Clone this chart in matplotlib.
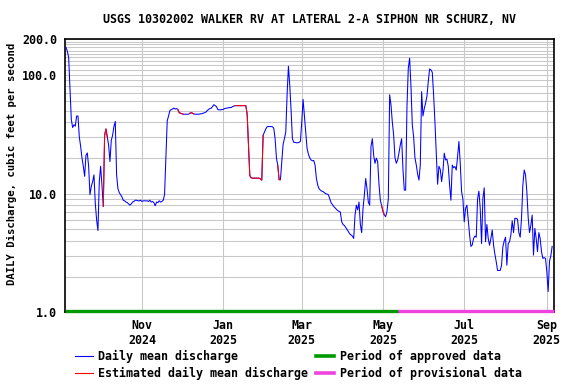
import pandas as pd
import matplotlib
matplotlib.use("Agg")
import matplotlib.pyplot as plt
from matplotlib.lines import Line2D
from matplotlib.ticker import FixedLocator, FixedFormatter, NullFormatter

plt.rcParams["font.family"] = "DejaVu Sans Mono"
plt.rcParams["font.weight"] = "bold"
plt.rcParams["font.size"] = 8.4

title = "USGS 10302002 WALKER RV AT LATERAL 2-A SIPHON NR SCHURZ, NV"
ylabel = "DAILY Discharge, cubic feet per second"

# daily mean discharge, cfs, starting 2024-09-05
start = "2024-09-05"
flow = [
    170, 158, 140, 78, 42, 36, 38, 37, 45, 45,
    30, 25, 20, 17, 14, 21, 22, 17, 9.8, 11.5,
    12.6, 14.4, 8.3, 6.0, 4.9, 12.6, 17, 11.8, 7.8, 31,
    35, 30, 25.7, 18.6, 28, 31, 36.7, 40.5, 14.4, 11,
    10.2, 9.8, 9.4, 8.8, 8.7, 8.5, 8.4, 8.2, 8.0, 8.2,
    8.5, 8.6, 8.8, 8.8, 8.7, 8.7, 8.8, 8.6, 8.7, 8.7,
    8.7, 8.7, 8.6, 8.8, 8.5, 8.6, 8.4, 7.9, 8.5, 8.4,
    8.7, 8.5, 8.6, 8.8, 9.8, 20.5, 41, 45, 50, 51,
    51.5, 52.5, 51.5, 52, 51, 48, 47.5, 47, 46.6, 46.6,
    46.6, 46.6, 46.6, 47.5, 48, 47.5, 46.8, 46.6, 46.6, 46.6,
    46.6, 47, 47, 47.5, 48, 48.5, 50, 51, 52, 52.3,
    54, 56, 55, 54, 51, 50.7, 50.7, 51, 51, 52,
    52.3, 52.5, 52.8, 53, 53, 54, 54.5, 55, 55, 55,
    55, 55, 55, 55, 55, 55, 47, 26, 14.2, 13.6,
    13.5, 13.5, 13.5, 13.5, 13.5, 13.5, 13.3, 13.0, 31, 33,
    35, 36.5, 36.7, 36.7, 36.7, 36.5, 35.5, 29, 20, 17.3,
    13.1, 13.1, 18.5, 26, 29, 33, 68, 118, 82, 50,
    29, 27, 27, 26.8, 26.8, 27, 27.5, 40, 62, 45,
    32, 24, 21.5, 20, 19.2, 18.9, 19, 17.4, 13.4, 11.8,
    11, 10.7, 10.5, 10.4, 10.2, 10.0, 9.9, 9.8, 9.1, 8.4,
    8.1, 7.8, 7.6, 7.4, 7.2, 7.1, 7.0, 5.8, 5.5, 5.4,
    5.2, 5.0, 4.8, 4.6, 4.5, 4.4, 4.2, 6.6, 8.0, 7.3,
    8.5, 5.5, 4.7, 7.5, 9.7, 13.4, 11, 8.5, 8.0, 25,
    29, 21, 18, 19.9, 18.6, 12, 8.8, 7.9, 7.1, 6.6,
    6.4, 7.1, 9, 68, 56, 40, 31, 20, 18, 19.2,
    22, 25.7, 29, 16, 10.7, 10.7, 54, 114, 138, 80,
    38, 30, 20, 17.4, 14.6, 13, 17.4, 72, 45, 52,
    58, 66, 88, 112, 110, 105, 68, 40, 22, 12,
    17, 16, 12.6, 15.5, 21.9, 19.2, 19.5, 17, 11.8, 8.8,
    17.4, 16.5, 16.9, 15.8, 20.5, 27.5, 18, 10.4, 9, 5.8,
    7.5, 8.0, 6.0, 4.5, 3.6, 3.7, 4.2, 4.4, 4.3, 9,
    10.5, 7.5, 3.8, 9.1, 11.2, 3.94, 5.5, 4.2, 3.68, 4.2,
    4.94, 3.7, 3.1, 2.68, 2.26, 2.26, 2.26, 2.5, 3.58, 4.0,
    4.3, 2.5, 3.8, 3.94, 4.49, 5.9, 4.7, 6.2, 6.2, 6.1,
    4.7, 4.3, 6.2, 11.8, 15.8, 14.4, 10.4, 6.3, 4.7, 5.4,
    6.6, 3.04, 5.1, 4.2, 3.25, 4.7, 4.2, 3.25, 2.85, 2.9,
    2.85, 2.2, 1.5, 2.7, 3.0, 3.6,
]

# estimated (red) periods, first and last estimated day
estimated = [
    ("2024-10-03", "2024-10-05"),
    ("2024-11-28", "2024-12-01"),
    ("2024-12-07", "2024-12-09"),
    ("2025-01-10", "2025-01-30"),
    ("2025-02-11", "2025-02-12"),
    ("2025-04-30", "2025-05-01"),
]
approved_end = "2025-05-12"

y_major = [1, 10, 100, 200]
y_major_labels = ["1.0", "10.0", "100.0", "200.0"]
y_minor = [2, 3, 4, 5, 6, 7, 8, 9, 20, 30, 40, 50, 60, 70, 80, 90,
           110, 120, 130, 140, 150, 160, 170, 180, 190]
x_ticks = ["2024-11-01", "2025-01-01", "2025-03-01", "2025-05-01", "2025-07-01", "2025-09-01"]
x_tick_labels = ["Nov\n2024", "Jan\n2025", "Mar\n2025", "May\n2025", "Jul\n2025", "Sep\n2025"]

green = "#009a00"
pink = "#ee44dd"
grid_gray = "#c8c8c8"

dates = pd.date_range(start, periods=len(flow), freq="D")
q = pd.Series(flow, index=dates)

fig = plt.figure(figsize=(5.76, 3.84), dpi=100)
ax = fig.add_axes([0.1134, 0.1862, 0.8489, 0.7122])

ax.plot(q.index, q.values, color="blue", lw=0.75, zorder=3)
for s, e in estimated:
    seg = q[pd.Timestamp(s):pd.Timestamp(e) + pd.Timedelta(days=1)]
    ax.plot(seg.index, seg.values, color="red", lw=0.75, zorder=4)

ax.set_yscale("log")
ax.set_ylim(1, 200)
x0 = pd.Timestamp(start) - pd.Timedelta(hours=12)
x1 = pd.Timestamp(start) + pd.Timedelta(days=366.6)
ax.set_xlim(x0, x1)

ax.yaxis.set_major_locator(FixedLocator(y_major))
ax.yaxis.set_major_formatter(FixedFormatter(y_major_labels))
ax.yaxis.set_minor_locator(FixedLocator(y_minor))
ax.yaxis.set_minor_formatter(NullFormatter())
ax.set_xticks(pd.to_datetime(x_ticks))
ax.set_xticklabels(x_tick_labels)
ax.tick_params(axis="both", which="both", length=0)
ax.tick_params(axis="y", pad=6)
ax.tick_params(axis="x", pad=5)

ax.grid(axis="y", which="both", color=grid_gray, lw=0.75)
ax.grid(axis="x", which="major", color=grid_gray, lw=0.75)
ax.set_axisbelow(True)
for sp in ax.spines.values():
    sp.set_linewidth(1.2)
    sp.set_color("black")

# approved / provisional bar along the bottom
xt = ax.get_xaxis_transform()
ax.plot([x0, pd.Timestamp(approved_end)], [0.006, 0.006], transform=xt,
        color=green, lw=2.4, solid_capstyle="butt", clip_on=False, zorder=5)
ax.plot([pd.Timestamp(approved_end), x1], [0.006, 0.006], transform=xt,
        color=pink, lw=2.4, solid_capstyle="butt", clip_on=False, zorder=5)

fig.text(0.537, 0.948, title, ha="center", va="center")
fig.text(0.021, 0.574, ylabel, rotation=90, ha="center", va="center", fontsize=7.7)

handles = [
    Line2D([], [], color="blue", lw=0.8),
    Line2D([], [], color="red", lw=0.8),
    Line2D([], [], color=green, lw=2.6),
    Line2D([], [], color=pink, lw=2.6),
]
labels = ["Daily mean discharge", "Estimated daily mean discharge",
          "Period of approved data", "Period of provisional data"]
fig.legend(handles, labels, ncol=2, loc="upper left", bbox_to_anchor=(0.130, 0.0895),
           frameon=False, handlelength=1.55, handletextpad=0.45, columnspacing=0.7,
           labelspacing=0.4, borderaxespad=0, borderpad=0)

fig.savefig("out.png", dpi=100)
